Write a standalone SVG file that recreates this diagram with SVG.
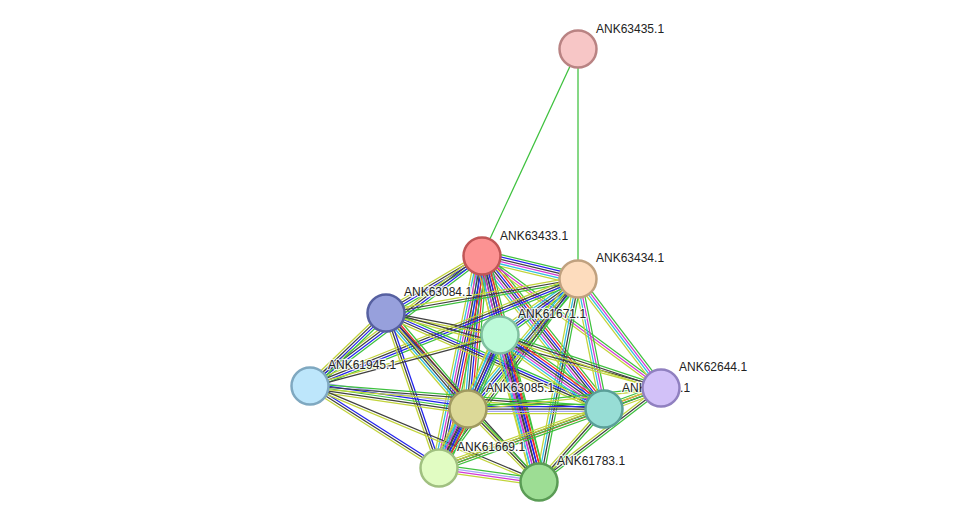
<svg xmlns="http://www.w3.org/2000/svg" width="975" height="527" viewBox="0 0 975 527">
<style>
.e line{fill:none;stroke-width:1.25;vector-effect:non-scaling-stroke}
.g{stroke:#3ec13e}.r{stroke:#ee2a2a}.b{stroke:#2222ee}.k{stroke:#404040}
.m{stroke:#d33ad3}.c{stroke:#30bde0}.y{stroke:#c2d43a}.l{stroke:#a6a6f5}
.n circle{stroke-width:2.5}
.n text{font-family:"Liberation Sans",Arial,sans-serif;font-size:12px;fill:#222;stroke:#fff;stroke-width:2.5;stroke-opacity:0.8;paint-order:stroke;stroke-linejoin:round}
</style>
<rect width="975" height="527" fill="#fff"/>
<g id="edges" class="e">
<line class="g" x1="578" y1="49" x2="482" y2="256"/>
<line class="g" x1="578" y1="49" x2="578" y2="279"/>
<g transform="translate(482 256) rotate(13.47) scale(1 1.15)"><line class="g" x2="98.7" y1="-5" y2="-5"/><line class="b" x2="98.7" y1="-3" y2="-3"/><line class="k" x2="98.7" y1="-1" y2="-1"/><line class="m" x2="98.7" y1="1" y2="1"/><line class="c" x2="98.7" y1="3" y2="3"/><line class="y" x2="98.7" y1="5" y2="5"/></g>
<g transform="translate(482 256) rotate(149.30) scale(1 1.15)"><line class="g" x2="111.6" y1="-3" y2="-3"/><line class="b" x2="111.6" y1="-1" y2="-1"/><line class="k" x2="111.6" y1="1" y2="1"/><line class="y" x2="111.6" y1="3" y2="3"/></g>
<g transform="translate(482 256) rotate(77.16) scale(1 1.15)"><line class="g" x2="81" y1="-5" y2="-5"/><line class="r" x2="81" y1="-3" y2="-3"/><line class="b" x2="81" y1="-1" y2="-1"/><line class="k" x2="81" y1="1" y2="1"/><line class="m" x2="81" y1="3" y2="3"/><line class="y" x2="81" y1="5" y2="5"/></g>
<g transform="translate(482 256) rotate(142.92) scale(1 1.15)"><line class="g" x2="215.6" y1="-3" y2="-3"/><line class="b" x2="215.6" y1="-1" y2="-1"/><line class="k" x2="215.6" y1="1" y2="1"/><line class="y" x2="215.6" y1="3" y2="3"/></g>
<g transform="translate(482 256) rotate(95.23) scale(1 1.15)"><line class="g" x2="153.6" y1="-5" y2="-5"/><line class="r" x2="153.6" y1="-3" y2="-3"/><line class="b" x2="153.6" y1="-1" y2="-1"/><line class="k" x2="153.6" y1="1" y2="1"/><line class="c" x2="153.6" y1="3" y2="3"/><line class="y" x2="153.6" y1="5" y2="5"/></g>
<g transform="translate(482 256) rotate(51.43) scale(1 1.15)"><line class="g" x2="195.7" y1="-6" y2="-6"/><line class="r" x2="195.7" y1="-4" y2="-4"/><line class="b" x2="195.7" y1="-2" y2="-2"/><line class="k" x2="195.7" y1="0" y2="0"/><line class="m" x2="195.7" y1="2" y2="2"/><line class="c" x2="195.7" y1="4" y2="4"/><line class="y" x2="195.7" y1="6" y2="6"/></g>
<g transform="translate(482 256) rotate(36.41) scale(1 1.15)"><line class="g" x2="222.4" y1="-2" y2="-2"/><line class="m" x2="222.4" y1="0" y2="0"/><line class="y" x2="222.4" y1="2" y2="2"/></g>
<g transform="translate(482 256) rotate(101.47) scale(1 1.15)"><line class="g" x2="216.3" y1="-6" y2="-6"/><line class="r" x2="216.3" y1="-4" y2="-4"/><line class="b" x2="216.3" y1="-2" y2="-2"/><line class="k" x2="216.3" y1="0" y2="0"/><line class="m" x2="216.3" y1="2" y2="2"/><line class="c" x2="216.3" y1="4" y2="4"/><line class="y" x2="216.3" y1="6" y2="6"/></g>
<g transform="translate(482 256) rotate(75.84) scale(1 1.15)"><line class="g" x2="233.1" y1="-6" y2="-6"/><line class="r" x2="233.1" y1="-4" y2="-4"/><line class="b" x2="233.1" y1="-2" y2="-2"/><line class="k" x2="233.1" y1="0" y2="0"/><line class="m" x2="233.1" y1="2" y2="2"/><line class="c" x2="233.1" y1="4" y2="4"/><line class="y" x2="233.1" y1="6" y2="6"/></g>
<g transform="translate(578 279) rotate(169.96) scale(1 1.15)"><line class="g" x2="195" y1="-2" y2="-2"/><line class="k" x2="195" y1="0" y2="0"/><line class="y" x2="195" y1="2" y2="2"/></g>
<g transform="translate(578 279) rotate(144.32) scale(1 1.15)"><line class="g" x2="96" y1="-4" y2="-4"/><line class="b" x2="96" y1="-2" y2="-2"/><line class="k" x2="96" y1="0" y2="0"/><line class="c" x2="96" y1="2" y2="2"/><line class="y" x2="96" y1="4" y2="4"/></g>
<g transform="translate(578 279) rotate(158.24) scale(1 1.15)"><line class="g" x2="288.6" y1="-3" y2="-3"/><line class="b" x2="288.6" y1="-1" y2="-1"/><line class="k" x2="288.6" y1="1" y2="1"/><line class="y" x2="288.6" y1="3" y2="3"/></g>
<g transform="translate(578 279) rotate(130.24) scale(1 1.15)"><line class="g" x2="170.3" y1="-4" y2="-4"/><line class="b" x2="170.3" y1="-2" y2="-2"/><line class="k" x2="170.3" y1="0" y2="0"/><line class="c" x2="170.3" y1="2" y2="2"/><line class="y" x2="170.3" y1="4" y2="4"/></g>
<g transform="translate(578 279) rotate(78.69) scale(1 1.15)"><line class="g" x2="132.6" y1="-3" y2="-3"/><line class="m" x2="132.6" y1="-1" y2="-1"/><line class="c" x2="132.6" y1="1" y2="1"/><line class="y" x2="132.6" y1="3" y2="3"/></g>
<g transform="translate(578 279) rotate(52.72) scale(1 1.15)"><line class="g" x2="137" y1="-3" y2="-3"/><line class="m" x2="137" y1="-1" y2="-1"/><line class="c" x2="137" y1="1" y2="1"/><line class="y" x2="137" y1="3" y2="3"/></g>
<g transform="translate(578 279) rotate(126.33) scale(1 1.15)"><line class="g" x2="234.6" y1="-2" y2="-2"/><line class="k" x2="234.6" y1="0" y2="0"/><line class="y" x2="234.6" y1="2" y2="2"/></g>
<g transform="translate(578 279) rotate(100.88) scale(1 1.15)"><line class="g" x2="206.7" y1="-3" y2="-3"/><line class="k" x2="206.7" y1="-1" y2="-1"/><line class="c" x2="206.7" y1="1" y2="1"/><line class="y" x2="206.7" y1="3" y2="3"/></g>
<g transform="translate(386 313) rotate(10.92) scale(1 1.15)"><line class="k" x2="116.1" y1="-1" y2="-1"/><line class="y" x2="116.1" y1="1" y2="1"/></g>
<g transform="translate(386 313) rotate(136.15) scale(1 1.15)"><line class="g" x2="105.4" y1="-3" y2="-3"/><line class="b" x2="105.4" y1="-1" y2="-1"/><line class="k" x2="105.4" y1="1" y2="1"/><line class="y" x2="105.4" y1="3" y2="3"/></g>
<g transform="translate(386 313) rotate(49.50) scale(1 1.15)"><line class="g" x2="126.3" y1="-5" y2="-5"/><line class="r" x2="126.3" y1="-3" y2="-3"/><line class="b" x2="126.3" y1="-1" y2="-1"/><line class="k" x2="126.3" y1="1" y2="1"/><line class="c" x2="126.3" y1="3" y2="3"/><line class="y" x2="126.3" y1="5" y2="5"/></g>
<g transform="translate(386 313) rotate(23.77) scale(1 1.15)"><line class="g" x2="238.2" y1="-3" y2="-3"/><line class="b" x2="238.2" y1="-1" y2="-1"/><line class="k" x2="238.2" y1="1" y2="1"/><line class="y" x2="238.2" y1="3" y2="3"/></g>
<g transform="translate(386 313) rotate(15.26) scale(1 1.15)"><line class="k" x2="285" y1="-1" y2="-1"/><line class="y" x2="285" y1="1" y2="1"/></g>
<g transform="translate(386 313) rotate(71.12) scale(1 1.15)"><line class="b" x2="163.8" y1="-2" y2="-2"/><line class="k" x2="163.8" y1="0" y2="0"/><line class="y" x2="163.8" y1="2" y2="2"/></g>
<g transform="translate(386 313) rotate(47.84) scale(1 1.15)"><line class="k" x2="228" y1="-1" y2="-1"/><line class="y" x2="228" y1="1" y2="1"/></g>
<g transform="translate(500 335) rotate(164.97) scale(1 1.15)"><line class="k" x2="196.7" y1="-1" y2="-1"/><line class="y" x2="196.7" y1="1" y2="1"/></g>
<g transform="translate(500 335) rotate(113.39) scale(1 1.15)"><line class="g" x2="80.6" y1="-5" y2="-5"/><line class="b" x2="80.6" y1="-3" y2="-3"/><line class="k" x2="80.6" y1="-1" y2="-1"/><line class="m" x2="80.6" y1="1" y2="1"/><line class="c" x2="80.6" y1="3" y2="3"/><line class="y" x2="80.6" y1="5" y2="5"/></g>
<g transform="translate(500 335) rotate(35.43) scale(1 1.15)"><line class="g" x2="127.6" y1="-6" y2="-6"/><line class="r" x2="127.6" y1="-4" y2="-4"/><line class="b" x2="127.6" y1="-2" y2="-2"/><line class="k" x2="127.6" y1="0" y2="0"/><line class="m" x2="127.6" y1="2" y2="2"/><line class="c" x2="127.6" y1="4" y2="4"/><line class="y" x2="127.6" y1="6" y2="6"/></g>
<g transform="translate(500 335) rotate(18.22) scale(1 1.15)"><line class="g" x2="169.5" y1="-2" y2="-2"/><line class="k" x2="169.5" y1="0" y2="0"/><line class="y" x2="169.5" y1="2" y2="2"/></g>
<g transform="translate(500 335) rotate(114.64) scale(1 1.15)"><line class="g" x2="146.3" y1="-4" y2="-4"/><line class="b" x2="146.3" y1="-2" y2="-2"/><line class="k" x2="146.3" y1="0" y2="0"/><line class="c" x2="146.3" y1="2" y2="2"/><line class="y" x2="146.3" y1="4" y2="4"/></g>
<g transform="translate(500 335) rotate(75.14) scale(1 1.15)"><line class="g" x2="152.1" y1="-6" y2="-6"/><line class="r" x2="152.1" y1="-4" y2="-4"/><line class="b" x2="152.1" y1="-2" y2="-2"/><line class="k" x2="152.1" y1="0" y2="0"/><line class="m" x2="152.1" y1="2" y2="2"/><line class="c" x2="152.1" y1="4" y2="4"/><line class="y" x2="152.1" y1="6" y2="6"/></g>
<g transform="translate(310 386) rotate(8.28) scale(1 1.15)"><line class="l" x2="159.7" y1="-4" y2="-4"/><line class="b" x2="159.7" y1="-2" y2="-2"/><line class="g" x2="159.7" y1="0" y2="0"/><line class="k" x2="159.7" y1="2" y2="2"/><line class="y" x2="159.7" y1="4" y2="4"/></g>
<g transform="translate(310 386) rotate(4.47) scale(1 1.15)"><line class="g" x2="294.9" y1="-2" y2="-2"/><line class="k" x2="294.9" y1="0" y2="0"/><line class="y" x2="294.9" y1="2" y2="2"/></g>
<g transform="translate(310 386) rotate(32.44) scale(1 1.15)"><line class="b" x2="152.9" y1="-2" y2="-2"/><line class="k" x2="152.9" y1="0" y2="0"/><line class="y" x2="152.9" y1="2" y2="2"/></g>
<g transform="translate(310 386) rotate(22.75) scale(1 1.15)"><line class="k" x2="248.3" y1="-1" y2="-1"/><line class="y" x2="248.3" y1="1" y2="1"/></g>
<g transform="translate(468 409) scale(1 1.15)"><line class="g" x2="136" y1="-4" y2="-4"/><line class="b" x2="136" y1="-2" y2="-2"/><line class="k" x2="136" y1="0" y2="0"/><line class="l" x2="136" y1="2" y2="2"/><line class="y" x2="136" y1="4" y2="4"/></g>
<g transform="translate(468 409) rotate(-6.21) scale(1 1.15)"><line class="g" x2="194.1" y1="-1" y2="-1"/><line class="y" x2="194.1" y1="1" y2="1"/></g>
<g transform="translate(468 409) rotate(116.17) scale(1 1.15)"><line class="g" x2="65.7" y1="-6" y2="-6"/><line class="r" x2="65.7" y1="-4" y2="-4"/><line class="b" x2="65.7" y1="-2" y2="-2"/><line class="k" x2="65.7" y1="0" y2="0"/><line class="m" x2="65.7" y1="2" y2="2"/><line class="c" x2="65.7" y1="4" y2="4"/><line class="y" x2="65.7" y1="6" y2="6"/></g>
<g transform="translate(468 409) rotate(45.80) scale(1 1.15)"><line class="g" x2="101.8" y1="-2" y2="-2"/><line class="k" x2="101.8" y1="0" y2="0"/><line class="y" x2="101.8" y1="2" y2="2"/></g>
<g transform="translate(604 409) rotate(-20.22) scale(1 1.15)"><line class="g" x2="60.7" y1="-3" y2="-3"/><line class="r" x2="60.7" y1="-1" y2="-1"/><line class="k" x2="60.7" y1="1" y2="1"/><line class="y" x2="60.7" y1="3" y2="3"/></g>
<g transform="translate(604 409) rotate(160.32) scale(1 1.15)"><line class="g" x2="175.2" y1="-3" y2="-3"/><line class="r" x2="175.2" y1="-1" y2="-1"/><line class="k" x2="175.2" y1="1" y2="1"/><line class="y" x2="175.2" y1="3" y2="3"/></g>
<g transform="translate(604 409) rotate(131.68) scale(1 1.15)"><line class="g" x2="97.7" y1="-2" y2="-2"/><line class="k" x2="97.7" y1="0" y2="0"/><line class="y" x2="97.7" y1="2" y2="2"/></g>
<g transform="translate(661 388) rotate(142.39) scale(1 1.15)"><line class="g" x2="154" y1="-2" y2="-2"/><line class="k" x2="154" y1="0" y2="0"/><line class="y" x2="154" y1="2" y2="2"/></g>
<g transform="translate(661 388) rotate(160.18) scale(1 1.15)"><line class="g" x2="236" y1="-1" y2="-1"/><line class="y" x2="236" y1="1" y2="1"/></g>
<g transform="translate(439 468) rotate(7.97) scale(1 1.15)"><line class="g" x2="101" y1="-3" y2="-3"/><line class="l" x2="101" y1="-1" y2="-1"/><line class="m" x2="101" y1="1" y2="1"/><line class="y" x2="101" y1="3" y2="3"/></g>
</g>
<g id="n-ANK63435" class="n"><circle cx="578" cy="49" r="18.5" fill="#f7c6c6" stroke="#b98383"/><text x="596" y="33">ANK63435.1</text></g>
<g id="n-ANK63433" class="n"><circle cx="482" cy="256" r="18.5" fill="#fc9292" stroke="#c05656"/><text x="500" y="240">ANK63433.1</text></g>
<g id="n-ANK63434" class="n"><circle cx="578" cy="279" r="18.5" fill="#fddcbd" stroke="#c0a17f"/><text x="596" y="262">ANK63434.1</text></g>
<g id="n-ANK63084" class="n"><circle cx="386" cy="313" r="18.5" fill="#97a0dc" stroke="#5660a0"/><text x="404" y="296">ANK63084.1</text></g>
<g id="n-ANK61671" class="n"><circle cx="500" cy="335" r="18.5" fill="#bdfad9" stroke="#80c0a0"/><text x="518" y="318">ANK61671.1</text></g>
<g id="n-ANK61945" class="n"><circle cx="310" cy="386" r="18.5" fill="#bde6fb" stroke="#7fa8c0"/><text x="328" y="369">ANK61945.1</text></g>
<g id="n-ANK63085" class="n"><circle cx="468" cy="409" r="18.5" fill="#dcd998" stroke="#a09a60"/><text x="486" y="392">ANK63085.1</text></g>
<g id="n-ANK62643" class="n"><circle cx="604" cy="409" r="18.5" fill="#97ddd5" stroke="#5a9f98"/><text x="622" y="392">ANK62643.1</text></g>
<g id="n-ANK62644" class="n"><circle cx="661" cy="388" r="18.5" fill="#d2c1f8" stroke="#9080c0"/><text x="679" y="371">ANK62644.1</text></g>
<g id="n-ANK61669" class="n"><circle cx="439" cy="468" r="18.5" fill="#e1fcc2" stroke="#a0c080"/><text x="457" y="451">ANK61669.1</text></g>
<g id="n-ANK61783" class="n"><circle cx="539" cy="482" r="18.5" fill="#9ddd94" stroke="#5a9c55"/><text x="557" y="465">ANK61783.1</text></g>
</svg>
